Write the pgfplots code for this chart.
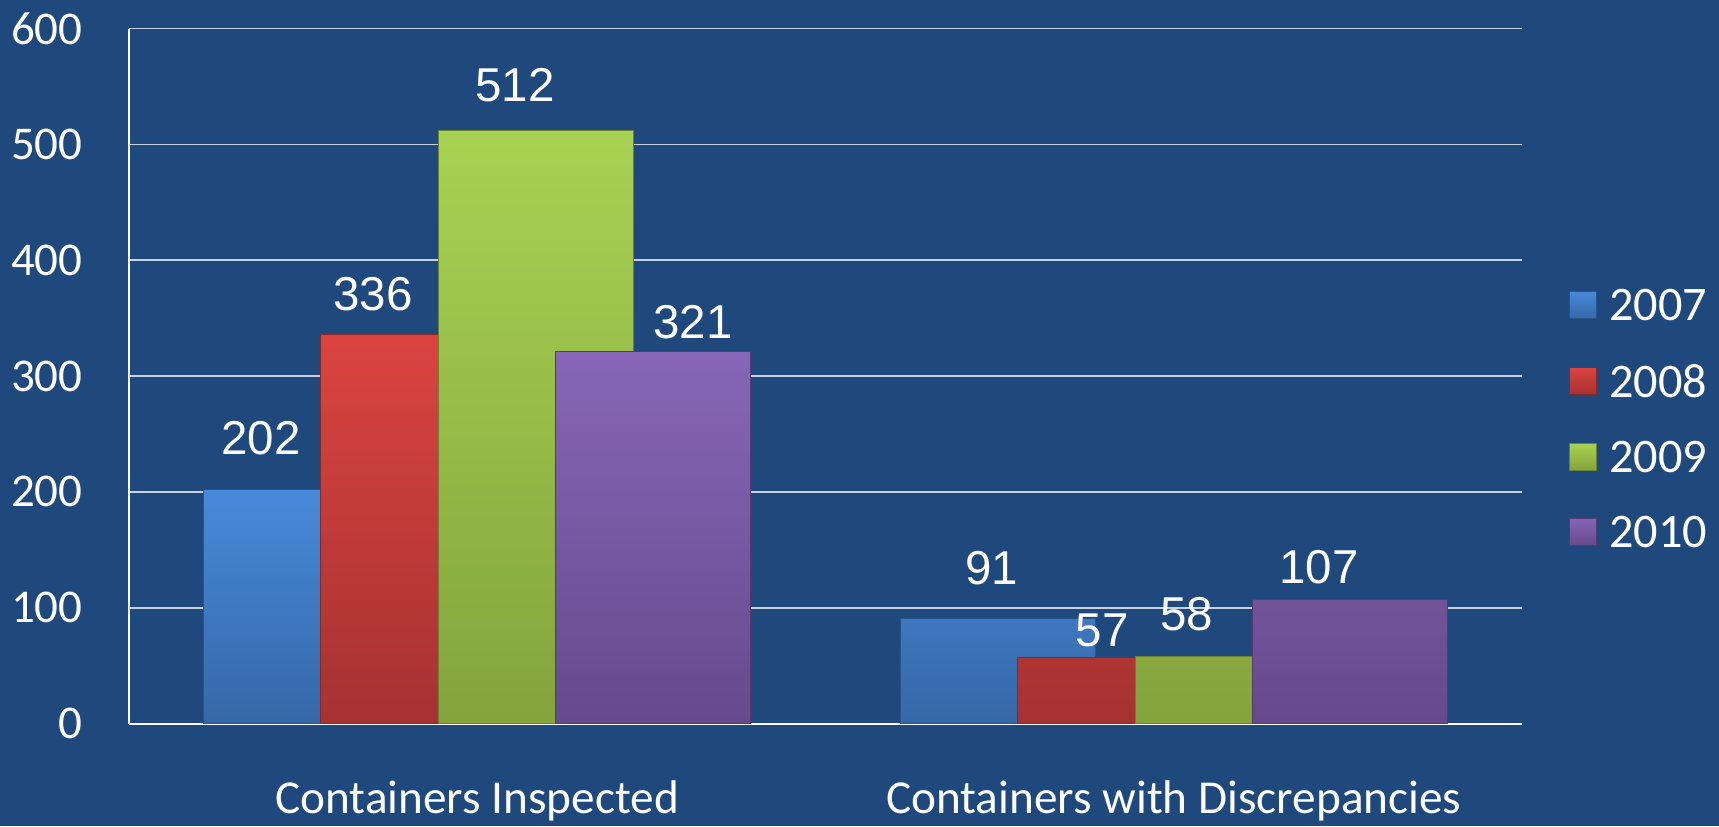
\documentclass[border=0pt]{standalone}
\usepackage{pgfplots}
\pgfplotsset{compat=1.18}
\usepackage{fontspec}
\setmainfont{Carlito}
\newfontfamily\arial{Liberation Sans}
\definecolor{bgblue}{RGB}{31,73,125}
\definecolor{bTop}{RGB}{72,138,218}
\definecolor{bBot}{RGB}{53,104,168}
\definecolor{rTop}{RGB}{218,68,64}
\definecolor{rBot}{RGB}{166,50,50}
\definecolor{gTop}{RGB}{168,210,82}
\definecolor{gBot}{RGB}{132,164,60}
\definecolor{pTop}{RGB}{135,102,184}
\definecolor{pBot}{RGB}{102,74,140}
\pgfplotsset{
  mylegend/.style={legend image code/.code={\draw[##1] (0pt,-4.5pt) rectangle (10.8pt,6.3pt);}},
}
\begin{document}
\begin{tikzpicture}
\useasboundingbox[fill=bgblue] (-51.6pt,-40.96pt) rectangle (636pt,289.44pt);
\begin{axis}[
  at={(0,0)}, anchor=south west,
  scale only axis,
  width=557.2pt, height=278.04pt,
  xmin=-0.5, xmax=1.5,
  ymin=0, ymax=600,
  ytick={0,100,...,600},
  xtick={0,1},
  xticklabels={Containers Inspected, Containers with Discrepancies},
  axis lines*=left,
  axis line style={-, white, line width=0.8pt},
  ymajorgrids,
  major grid style={line width=0.6pt, color=white!75!bgblue},
  major tick length=0pt,
  /pgf/number format/assume math mode=true,
  yticklabel style={font=\fontsize{18.8}{18.8}\selectfont, text=white, anchor=east, inner sep=0pt, xshift=-18.4pt},
  xticklabel style={font=\fontsize{18.9}{18.9}\selectfont, text=white, anchor=base, inner sep=0pt, yshift=-36pt},
  legend style={at={(axis description cs:1,0.436)}, anchor=west, xshift=18.8pt,
    draw=none, fill=none, inner sep=0pt, outer sep=0pt,
    font=\fontsize{19.3}{19.3}\selectfont, text=white,
    row sep=16pt,
    nodes={inner sep=0pt},
    /tikz/every odd column/.append style={column sep=5pt}},
  legend cell align=left,
]
\addplot[ybar, bar width=0.28, bar shift=-0.253, top color=bTop, bottom color=bBot, draw=bBot!80!black, line width=0.4pt, mylegend]
  coordinates {(0,202) (1,91)};
\addplot[ybar, bar width=0.28, bar shift=-0.0845, top color=rTop, bottom color=rBot, draw=rBot!80!black, line width=0.4pt, mylegend]
  coordinates {(0,336) (1,57)};
\addplot[ybar, bar width=0.28, bar shift=0.0845, top color=gTop, bottom color=gBot, draw=gBot!80!black, line width=0.4pt, mylegend]
  coordinates {(0,512) (1,58)};
\addplot[ybar, bar width=0.28, bar shift=0.253, top color=pTop, bottom color=pBot, draw=pBot!80!black, line width=0.4pt, mylegend]
  coordinates {(0,321) (1,107)};
\legend{2007,2008,2009,2010}
\begin{scope}[every node/.style={font=\arial\fontsize{19}{19}\selectfont, text=white, inner sep=0pt}]
\node at (axis cs:-0.3105,246.1) {202};
\node at (axis cs:-0.1497,370.8) {336};
\node at (axis cs:0.0542,550.8) {512};
\node at (axis cs:0.3098,346.7) {321};
\node at (axis cs:0.739,134.3) {91};
\node at (axis cs:0.897,80.8) {57};
\node at (axis cs:1.019,94.6) {58};
\node at (axis cs:1.2086,135.2) {107};
\end{scope}
\end{axis}
\end{tikzpicture}
\end{document}
